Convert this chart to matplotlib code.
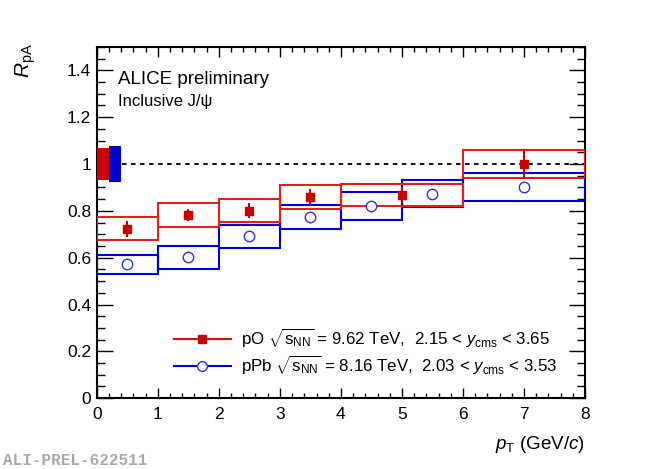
import matplotlib

matplotlib.use("Agg")
import matplotlib.pyplot as plt
from matplotlib.lines import Line2D
from matplotlib.patches import Rectangle
from matplotlib.ticker import MultipleLocator, FormatStrFormatter

plt.rcParams["font.family"] = ["Liberation Sans", "DejaVu Sans"]
plt.rcParams["mathtext.fontset"] = "custom"
plt.rcParams["mathtext.rm"] = "Liberation Sans"
plt.rcParams["mathtext.it"] = "Liberation Sans:italic"
plt.rcParams["mathtext.bf"] = "Liberation Sans:bold"

# pO data (bins, value, stat, syst)
po_lo = [0, 1, 2, 3, 4, 6]
po_hi = [1, 2, 3, 4, 6, 8]
po_val = [0.723, 0.782, 0.800, 0.859, 0.867, 0.999]
po_stat = [0.035, 0.026, 0.032, 0.035, 0.033, 0.065]
po_syst = [0.049, 0.052, 0.049, 0.052, 0.047, 0.060]

# pPb data
ppb_lo = [0, 1, 2, 3, 4, 5, 6]
ppb_hi = [1, 2, 3, 4, 5, 6, 8]
ppb_val = [0.571, 0.602, 0.691, 0.773, 0.822, 0.874, 0.902]
ppb_stat = [0.008, 0.008, 0.009, 0.009, 0.010, 0.012, 0.014]
ppb_syst = [0.041, 0.049, 0.050, 0.050, 0.060, 0.059, 0.059]

# global uncertainties around unity
glob_po = 0.07
glob_ppb = 0.075

RED = "#d01010"
RED_BOX = "#e02020"
BLUE = "#0000d0"
BLUE_MK = "#3030e0"

fig = plt.figure(figsize=(6.5, 4.69), dpi=100)
ax = fig.add_axes([0.149, 0.151, 0.751, 0.749])

# global uncertainty boxes
ax.add_patch(Rectangle((0, 1 - glob_po), 0.2, 2 * glob_po, color="#cc0000", lw=0, zorder=3))
ax.add_patch(Rectangle((0.2, 1 - glob_ppb), 0.2, 2 * glob_ppb, color="#0000cc", lw=0, zorder=3))
ax.hlines(1, 0.42, 8, colors="black", linestyles=(0, (2.5, 2.5)), lw=1.3, zorder=2)

for lo, hi, v, s in zip(ppb_lo, ppb_hi, ppb_val, ppb_syst):
    ax.add_patch(Rectangle((lo, v - s), hi - lo, 2 * s, fill=False, ec=BLUE, lw=1.5, zorder=4))
for lo, hi, v, s in zip(po_lo, po_hi, po_val, po_syst):
    ax.add_patch(Rectangle((lo, v - s), hi - lo, 2 * s, fill=False, ec=RED_BOX, lw=1.5, zorder=5))

po_x = [(lo + hi) / 2 for lo, hi in zip(po_lo, po_hi)]
ppb_x = [(lo + hi) / 2 for lo, hi in zip(ppb_lo, ppb_hi)]
ax.errorbar(po_x, po_val, yerr=po_stat, fmt="s", color="#cc0000", ms=6, elinewidth=1.5,
            capsize=0, zorder=7)
ax.errorbar(ppb_x, ppb_val, yerr=ppb_stat, fmt="o", color=BLUE_MK, mfc="white", mec=BLUE_MK,
            mew=1.0, ms=7.5, elinewidth=1.2, capsize=0, zorder=6)

ax.set_xlim(0, 8)
ax.set_ylim(0, 1.5)
ax.xaxis.set_major_locator(MultipleLocator(1))
ax.xaxis.set_minor_locator(MultipleLocator(0.2))
ax.yaxis.set_major_locator(MultipleLocator(0.2))
ax.yaxis.set_minor_locator(MultipleLocator(0.05))
ax.yaxis.set_major_formatter(FormatStrFormatter("%g"))
ax.tick_params(which="both", direction="in", top=True, right=True, width=1.0, labelsize=12.5)
ax.tick_params(axis="x", which="major", length=7.2, pad=6)
ax.tick_params(axis="x", which="minor", length=3.6)
ax.tick_params(axis="y", which="major", length=11.2, pad=4)
ax.tick_params(axis="y", which="minor", length=5.6)
for sp in ax.spines.values():
    sp.set_linewidth(1.5)

ax.text(0.043, 0.893, "ALICE preliminary", transform=ax.transAxes, fontsize=13.5, va="baseline")
ax.text(0.043, 0.832, "Inclusive J/\u03c8", transform=ax.transAxes, fontsize=12, va="baseline")

fig.text(26 / 650, 1 - 43 / 469, r"$R_{\rm pA}$", rotation=90, ha="center", va="top", fontsize=15)
fig.text(585 / 650, 1 - 449 / 469, r"$p_{\rm T}$ (GeV/$c$)", ha="right", va="baseline", fontsize=13.5)
fig.text(3 / 650, 1 - 465 / 469, "ALI-PREL-622511", family="Liberation Mono", weight="bold",
         color="#a8a8a8", fontsize=11.5, va="baseline")

handles = [
    Line2D([], [], color=RED, lw=1.5, marker="s", ms=6, mfc="#cc0000", mec="#cc0000"),
    Line2D([], [], color=BLUE, lw=1.5, marker="o", ms=7, mfc="white", mec=BLUE_MK),
]
labels = [
    r"pO $\sqrt{\rm s_{NN}}$ = 9.62 TeV,  2.15 < $y_{\rm cms}$ < 3.65",
    r"pPb $\sqrt{\rm s_{NN}}$ = 8.16 TeV,  2.03 < $y_{\rm cms}$ < 3.53",
]
ax.legend(handles, labels, loc="center left", bbox_to_anchor=(0.14, 0.132), frameon=False,
          fontsize=12.2, handlelength=3.4, handletextpad=0.6, labelspacing=0.2, borderpad=0)

fig.savefig("out.png", dpi=100)
